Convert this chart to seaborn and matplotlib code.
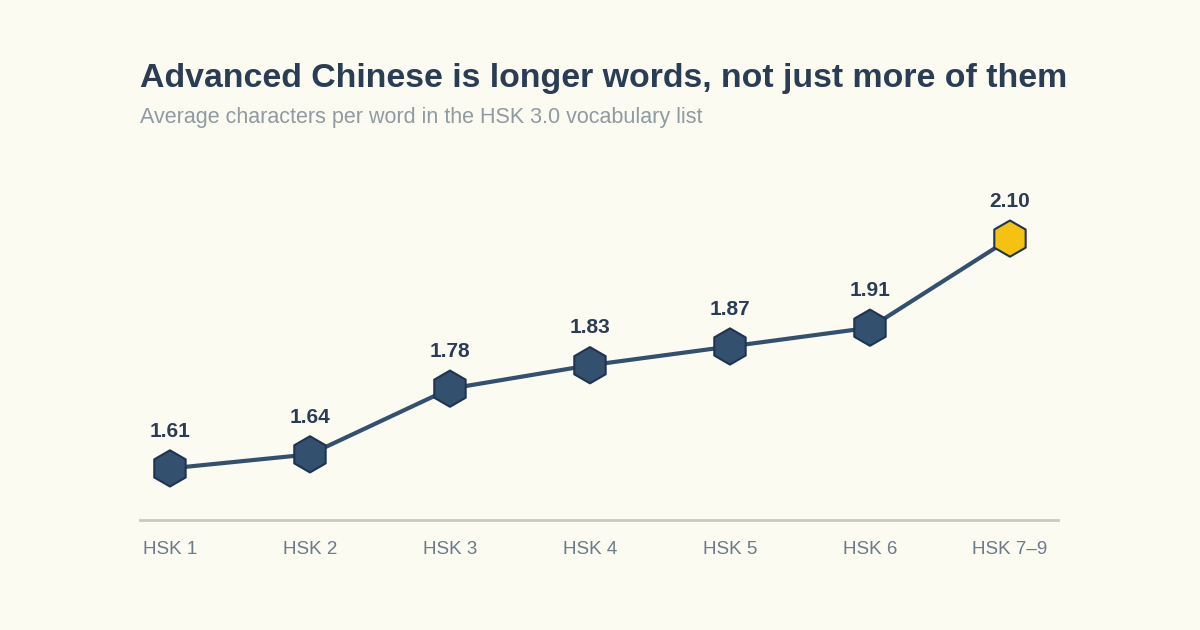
import matplotlib
matplotlib.use("Agg")
import matplotlib.pyplot as plt
import seaborn as sns
import pandas as pd
import numpy as np

levels = ["HSK 1", "HSK 2", "HSK 3", "HSK 4", "HSK 5", "HSK 6", "HSK 7–9"]
avg_chars = [1.61, 1.64, 1.78, 1.83, 1.87, 1.91, 2.10]
value_labels = ["1.61", "1.64", "1.78", "1.83", "1.87", "1.91", "2.10"]
highlight = [False, False, False, False, False, False, True]

BG = "#fbfbf1"
NAVY = "#34506f"
EDGE = "#1f3450"
GOLD = "#f5c211"
TITLE = "#2b3d55"
SUB = "#8f9aa3"
TICK = "#6b7b8b"
AXIS = "#c9c9c2"

sns.set_theme(style="white")
plt.rcParams['font.family'] = ['Liberation Sans', 'DejaVu Sans']

df = pd.DataFrame({"pos": np.arange(len(levels)), "level": levels,
                   "value": avg_chars,
                   "group": ["hi" if h else "base" for h in highlight]})

fig = plt.figure(figsize=(12, 6.3), dpi=100, facecolor=BG)
ax = fig.add_axes([140/1200, 110/630, 918/1200, 340/630])
ax.set_facecolor(BG)

sns.lineplot(data=df, x="pos", y="value", color=NAVY, linewidth=3, ax=ax, zorder=2)
sns.scatterplot(data=df, x="pos", y="value", hue="group",
                palette={"base": NAVY, "hi": GOLD}, marker="h", s=680,
                edgecolor=EDGE, linewidth=1.5, legend=False, ax=ax, zorder=3)

for i, (v, lab) in enumerate(zip(avg_chars, value_labels)):
    ax.annotate(lab, (i, v), xytext=(0, 20), textcoords="offset points",
                ha="center", va="bottom", fontsize=15, fontweight="bold", color=TITLE)

ax.set_xlim(-0.214, 6.343)
ax.set_ylim(1.5, 1.5 + 340/469)
ax.set_xticks(df["pos"])
ax.set_xticklabels(levels, fontsize=13.5, color=TICK)
ax.set_yticks([])
ax.set_xlabel("")
ax.set_ylabel("")
for s in ["top", "right", "left"]:
    ax.spines[s].set_visible(False)
ax.spines["bottom"].set_color(AXIS)
ax.spines["bottom"].set_linewidth(2)
ax.tick_params(axis="x", length=0, pad=15)

fig.text(140/1200, 1 - 79/630, "Advanced Chinese is longer words, not just more of them",
         fontsize=24.4, fontweight="bold", color=TITLE, va="center", ha="left")
fig.text(140/1200, 1 - 117/630, "Average characters per word in the HSK 3.0 vocabulary list",
         fontsize=15.5, color=SUB, va="center", ha="left")

fig.savefig("out.png", dpi=100, facecolor=BG)
